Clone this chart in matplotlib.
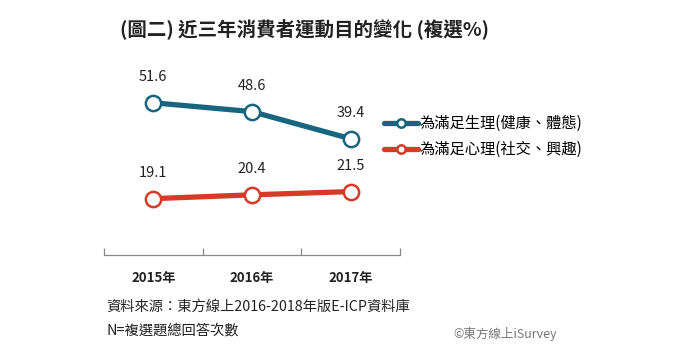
import matplotlib.pyplot as plt
import numpy as np

plt.rcParams['font.family'] = ['Noto Sans CJK TC', 'DejaVu Sans']

years = ['2015年', '2016年', '2017年']
physical = [51.6, 48.6, 39.4]
mental = [19.1, 20.4, 21.5]
series_names = ['為滿足生理(健康、體態)', '為滿足心理(社交、興趣)']

blue = '#17657f'
red = '#d63b27'

fig = plt.figure(figsize=(7, 3.57), dpi=100)
ax = fig.add_axes([104 / 700, 102 / 357, 296 / 700, 177 / 357])

x = np.arange(len(years))
for vals, col, name in [(physical, blue, series_names[0]), (mental, red, series_names[1])]:
    ax.plot(x, vals, color=col, lw=3.8, marker='o', ms=11, mfc='white',
            mec=col, mew=1.8, label=name, solid_capstyle='round')
    for xi, v in zip(x, vals):
        ax.text(xi, v + 6.3, '%.1f' % v, ha='center', va='bottom', fontsize=10.5, color='#222222')

ax.set_xlim(-0.5, 2.5)
ax.set_ylim(0, 60)
for s in ['top', 'right', 'left']:
    ax.spines[s].set_visible(False)
ax.spines['bottom'].set_color('#888888')
ax.spines['bottom'].set_linewidth(0.9)
ax.set_yticks([])
ax.set_xticks([-0.5, 0.5, 1.5, 2.5])
ax.set_xticklabels([])
ax.tick_params(axis='x', direction='in', length=5, color='#888888', width=0.9)
for xi, lab in zip(x, years):
    ax.text(xi, -5.5, lab, ha='center', va='top', fontsize=9.5, fontweight='bold', color='#222222')

fig.legend(loc='upper left', bbox_to_anchor=(378 / 700, 1 - 109 / 357), frameon=False,
           fontsize=11, handlelength=2.2, handletextpad=0.1, labelspacing=0.6,
           borderaxespad=0, markerscale=0.55)

fig.text(305 / 700, 1 - 30 / 357, '(圖二) 近三年消費者運動目的變化 (複選%)', ha='center', va='center',
         fontsize=14, fontweight='bold', color='#222222')
fig.text(106 / 700, 1 - 307 / 357, '資料來源：東方線上2016-2018年版E-ICP資料庫', ha='left', va='center',
         fontsize=10.3, color='#222222')
fig.text(106 / 700, 1 - 331 / 357, 'N=複選題總回答次數', ha='left', va='center',
         fontsize=10.3, color='#222222')
fig.text(453 / 700, 1 - 334 / 357, '©東方線上iSurvey', ha='left', va='center',
         fontsize=9, color='#777777')

fig.savefig('out.png', dpi=100)
